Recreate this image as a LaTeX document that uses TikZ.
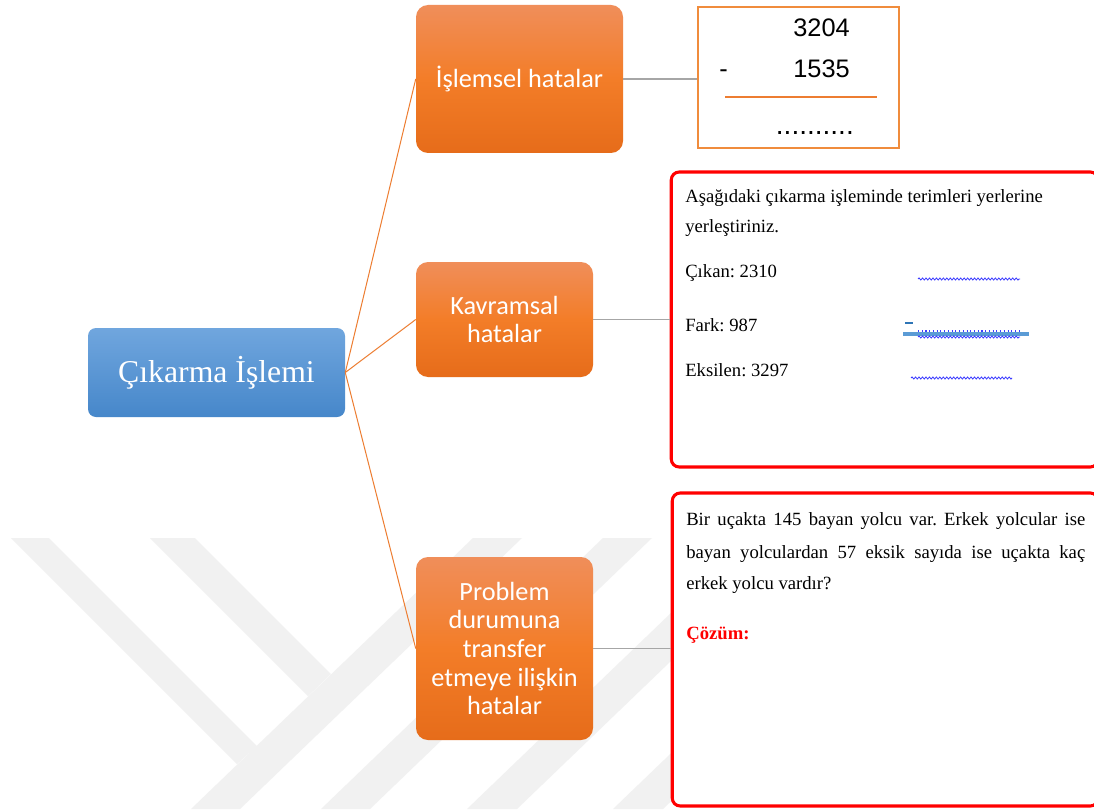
\documentclass[tikz,border=0pt]{standalone}
\usepackage{fontspec}
\setmainfont{Liberation Serif}
\newfontfamily\calib{Carlito}
\newfontfamily\arialf{Liberation Sans}
\usetikzlibrary{decorations.pathmorphing}
\definecolor{blueT}{RGB}{112,166,222}
\definecolor{blueB}{RGB}{70,135,202}
\definecolor{orT}{RGB}{240,142,90}
\definecolor{orM}{RGB}{243,125,40}
\definecolor{orB}{RGB}{230,108,26}
\definecolor{olineC}{RGB}{237,125,49}
\definecolor{glineC}{RGB}{166,166,166}
\definecolor{sumC}{RGB}{240,140,60}
\definecolor{wmC}{RGB}{241,241,241}
\definecolor{wavyC}{RGB}{60,60,255}
\definecolor{lbC}{RGB}{91,155,213}
\definecolor{dbC}{RGB}{46,117,182}
\definecolor{redC}{RGB}{255,0,0}
\frenchspacing
\begin{document}
\begin{tikzpicture}[x=0.75pt,y=-0.75pt,
  rootbox/.style={rounded corners=6pt, top color=blueT, bottom color=blueB, draw=none,
    text=white, font=\fontsize{23.8}{28}\selectfont, inner sep=0pt,
    minimum width=192.75pt, minimum height=66.75pt},
  obox/.style={rounded corners=9pt, top color=orT, bottom color=orB, middle color=orM,
    draw=none, text=white, font=\calib\fontsize{19.7}{21.5}\selectfont, align=center, inner sep=0pt},
  sumbox/.style={draw=sumC, line width=1.1pt, fill=white, inner sep=0pt,
    minimum width=150.75pt, minimum height=105.75pt},
  redbox/.style={draw=redC, line width=2.3pt, rounded corners=6pt, fill=white, inner sep=0pt},
  oline/.style={draw=olineC, line width=0.75pt},
  gline/.style={draw=glineC, line width=0.8pt},
  tnr/.style={font=\fontsize{14}{16}\selectfont, inner sep=0pt, text=black},
  arialn/.style={font=\arialf\fontsize{19}{22}\selectfont, inner sep=0pt, text=black},
  wavy/.style={draw=wavyC, line width=0.6pt, decorate,
    decoration={snake, amplitude=0.8pt, segment length=2.6pt}},
  wm/.style={fill=wmC}
]
\useasboundingbox (0,0) rectangle (1094,809);
\fill[white] (0,0) rectangle (1094,809);

% watermark
\fill[wm] (11,538) -- (49,538) -- (257,746) -- (237,764) -- cycle;
\fill[wm] (150,538) -- (195,538) -- (331,674) -- (308,696) -- cycle;
\fill[wm] (473,538) -- (522,538) -- (240,809) -- (191,809) -- cycle;
\fill[wm] (603,538) -- (652,538) -- (370,809) -- (321,809) -- cycle;
\fill[wm] (749,538) -- (799,538) -- (517,809) -- (467,809) -- cycle;
\fill[wm] (895,538) -- (945,538) -- (663,809) -- (613,809) -- cycle;

% main nodes
\node[rootbox] (root) at (216.5,372.5) {Çıkarma İşlemi};
\node[obox, minimum width=155.25pt, minimum height=111pt] (o1) at (519.5,79) {İşlemsel hatalar};
\node[obox, minimum width=132.75pt, minimum height=86.25pt] (o2) at (504.5,319.5) {Kavramsal\\hatalar};
\node[obox, minimum width=132.75pt, minimum height=137.25pt] (o3) at (504.5,648.5) {Problem\\durumuna\\transfer\\etmeye ilişkin\\hatalar};

% right panels
\node[sumbox] (sum) at (798.5,77.5) {};
\node[redbox, minimum width=320.25pt, minimum height=221.25pt] (red1) at (884.75,319.5) {};
\node[redbox, minimum width=319.5pt, minimum height=234.75pt] (red2) at (885.25,649.5) {};

% connectors
\draw[oline] (root.east) -- (o1.west);
\draw[oline] (root.east) -- (o2.west);
\draw[oline] (root.east) -- (o3.west);
\draw[gline] (o1.east) -- (o1.east -| sum.west);
\draw[gline] (o2.east) -- (o2.east -| red1.west);
\draw[gline] (o3.east) -- (o3.east -| red2.west);

% subtraction panel
\node[arialn, anchor=base east] (n1) at (850,37) {3204};
\node[arialn, anchor=base east] (n2) at (850,78) {1535};
\node[arialn, anchor=base west] (minus) at (719,78) {-};
\draw[draw=olineC, line width=1.5pt] (725,97) -- (877,97);
\node[font=\arialf\fontsize{21}{22}\selectfont, inner sep=0pt, anchor=base east] (dots) at (854,135) {..........};

% red panel 1
\node[tnr, anchor=base west] (q1a) at (685,203) {Aşağıdaki çıkarma işleminde terimleri yerlerine};
\node[tnr, anchor=base west] (q1b) at (685,232) {yerleştiriniz.};
\node[tnr, anchor=base west] (q1c) at (685,277) {Çıkan: 2310};
\node[tnr, anchor=base west] (q1d) at (685,331) {Fark: 987};
\node[tnr, anchor=base west] (q1e) at (685,376) {Eksilen: 3297};
\draw[wavy] (918,279) -- (1020,279);
\draw[draw=lbC, line width=3pt] (903,334) -- (1029,334);
\draw[draw=dbC, line width=2pt] (905,323) -- (913,323);
\draw[draw=wavyC, line width=0.8pt, dotted] (918,331) -- (1020,331);
\draw[wavy] (918,337) -- (1020,337);
\draw[wavy] (911,378) -- (1012,378);

% red panel 2
\node[tnr, anchor=base west] (p1) at (686,525) {\makebox[299.25pt][s]{Bir uçakta 145 bayan yolcu var. Erkek yolcular ise}};
\node[tnr, anchor=base west] (p2) at (686,558) {\makebox[299.25pt][s]{bayan yolculardan 57 eksik sayıda ise uçakta kaç}};
\node[tnr, anchor=base west] (p3) at (686,589) {erkek yolcu vardır?};
\node[tnr, anchor=base west, text=redC, font=\bfseries\fontsize{14}{16}\selectfont] (cz) at (686,639) {Çözüm:};
\end{tikzpicture}
\end{document}
